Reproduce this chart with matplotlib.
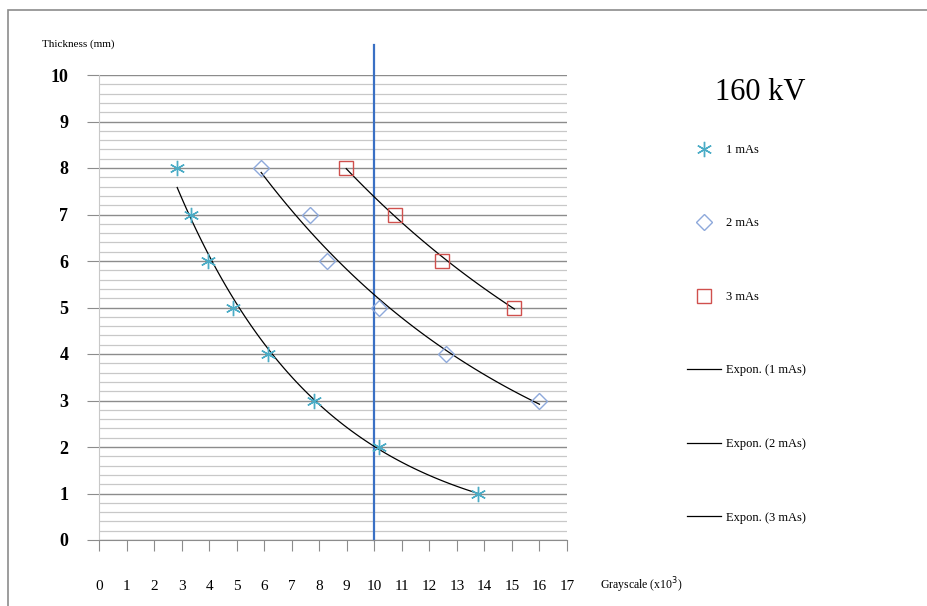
import numpy as np
import matplotlib
matplotlib.use('Agg')
import matplotlib.pyplot as plt
from matplotlib.lines import Line2D
from matplotlib.patches import Rectangle

plt.rcParams['font.family'] = ['Liberation Serif', 'DejaVu Serif']

# grayscale (x10^3) vs thickness (mm)
x1 = [2.84, 3.35, 3.96, 4.87, 6.15, 7.82, 10.18, 13.78]
y1 = [8, 7, 6, 5, 4, 3, 2, 1]
x2 = [5.89, 7.67, 8.29, 10.18, 12.62, 16.0]
y2 = [8, 7, 6, 5, 4, 3]
x3 = [8.98, 10.76, 12.47, 15.09]
y3 = [8, 7, 6, 5]
ref_x = 10
ref_top = 10.65
xticks = list(range(0, 18))
yticks = list(range(0, 11))

c1 = '#4BACC6'
c2 = '#8EA9DB'
c3 = '#D0504D'

fig = plt.figure(figsize=(9.27, 6.06), dpi=100)
ax = fig.add_axes([99/927, 1-540/606, (567-99)/927, (540-75)/606])

ax.set_xlim(0, 17)
ax.set_ylim(0, 10)

# gridlines
ax.set_yticks(yticks)
ax.set_yticks(np.arange(0, 10.01, 0.2), minor=True)
ax.grid(axis='y', which='minor', color='#C8C8C8', lw=0.9)
ax.grid(axis='y', which='major', color='#8C8C8C', lw=1.0)
ax.set_axisbelow(True)

ax.set_xticks(xticks)
ax.tick_params(axis='y', which='major', length=9, color='#8C8C8C', pad=13, labelsize=13)
ax.tick_params(axis='y', which='minor', length=0)
ax.tick_params(axis='x', length=8, color='#8C8C8C', pad=21, labelsize=11)
for t in ax.get_yticklabels():
    t.set_fontweight('bold')

for s in ['top', 'right']:
    ax.spines[s].set_visible(False)
ax.spines['left'].set_color('#C8C8C8')
ax.spines['bottom'].set_color('#8C8C8C')

# exponential trendlines
for xs, ys in [(x1, y1), (x2, y2), (x3, y3)]:
    b, a = np.polyfit(xs, np.log(ys), 1)
    xx = np.linspace(min(xs), max(xs), 100)
    ax.plot(xx, np.exp(a + b*xx), color='black', lw=0.9, zorder=3)

ax.plot([ref_x, ref_x], [0, ref_top], color='#3A70C4', lw=1.6, clip_on=False, zorder=2)

ax.plot(x1, y1, ls='none', marker=(6, 2, 0), ms=11, mew=1.0, color=c1, zorder=4)
ax.plot(x2, y2, ls='none', marker='D', ms=8, mew=1.0, mfc='none', mec=c2, zorder=4)
ax.plot(x3, y3, ls='none', marker='s', ms=10, mew=1.0, mfc='none', mec=c3, zorder=4)

fig.text(42/927, 1-44/606, 'Thickness (mm)', fontsize=8, va='center', ha='left')
fig.text(600/927, 1-585/606, r'Grayscale (x10$^3$)', fontsize=8.5, va='center', ha='left')
fig.text(760/927, 1-92/606, '160 kV', fontsize=22, va='center', ha='center')

handles = [
    Line2D([], [], ls='none', marker=(6, 2, 0), ms=11, mew=1.0, color=c1),
    Line2D([], [], ls='none', marker='D', ms=8, mew=1.0, mfc='none', mec=c2),
    Line2D([], [], ls='none', marker='s', ms=10, mew=1.0, mfc='none', mec=c3),
    Line2D([], [], color='black', lw=0.9),
    Line2D([], [], color='black', lw=0.9),
    Line2D([], [], color='black', lw=0.9),
]
labels = ['1 mAs', '2 mAs', '3 mAs', 'Expon. (1 mAs)', 'Expon. (2 mAs)', 'Expon. (3 mAs)']
fig.legend(handles, labels, loc='upper left', bbox_to_anchor=(687/927, 1-144/606),
           frameon=False, fontsize=9, labelspacing=4.92, handlelength=2.7,
           handletextpad=0.4, borderpad=0, borderaxespad=0)

fig.patches.append(Rectangle((8/927, -0.01), 1.0, 1-10/606+0.01, transform=fig.transFigure,
                             fill=False, edgecolor='#8C8C8C', lw=1.2))

fig.savefig('out.png', dpi=100)
